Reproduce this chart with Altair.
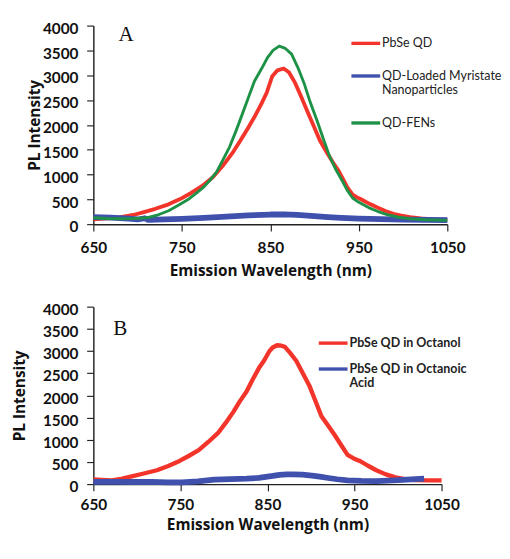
import altair as alt
import pandas as pd

# ---------- Panel A data ----------
a_red_wl = [650, 665, 681, 695, 706, 720, 735, 748, 760, 773, 785, 796, 807, 816, 825, 833, 840, 846, 852, 858, 865, 871, 878, 885, 892, 899, 906, 914, 921, 927, 932, 937, 943, 948, 953, 962, 971, 980, 989, 998, 1008, 1020, 1035, 1050]
a_red_int = [100, 118, 141, 185, 238, 310, 400, 505, 624, 770, 947, 1170, 1430, 1680, 1945, 2190, 2428, 2653, 2975, 3100, 3136, 3060, 2846, 2560, 2266, 1980, 1687, 1440, 1236, 1080, 914, 740, 593, 540, 496, 410, 335, 265, 207, 170, 141, 115, 95, 91]

a_blue_wl = [650, 670, 690, 700, 708, 712, 730, 750, 775, 800, 825, 850, 865, 880, 900, 915, 930, 950, 975, 1000, 1025, 1050]
a_blue_int = [140, 130, 110, 95, 120, 85, 95, 105, 125, 150, 175, 195, 198, 185, 160, 140, 125, 110, 100, 90, 85, 80]

a_green_wl = [650, 665, 680, 695, 710, 722, 735, 746, 757, 766, 775, 782, 789, 796, 804, 811, 818, 825, 832, 840, 847, 853, 860, 867, 874, 881, 888, 895, 903, 910, 917, 924, 932, 937, 943, 950, 961, 971, 982, 995, 1008, 1025, 1050]
a_green_int = [129, 115, 110, 112, 129, 180, 270, 380, 496, 620, 753, 890, 1043, 1280, 1559, 1870, 2202, 2540, 2879, 3130, 3362, 3500, 3588, 3540, 3425, 3160, 2846, 2460, 2073, 1710, 1366, 1100, 850, 680, 528, 440, 335, 260, 193, 140, 110, 90, 77]

a_names = ["PbSe QD", "QD-Loaded Myristate Nanoparticles", "QD-FENs"]
a_colors = ["#f2342a", "#3f51ad", "#1d9146"]
a_widths = [4, 6, 3]

# ---------- Panel B data ----------
b_red_wl = [650, 660, 671, 682, 694, 708, 723, 736, 749, 760, 771, 782, 793, 802, 811, 818, 826, 833, 841, 846, 852, 856, 861, 866, 870, 876, 883, 890, 898, 905, 912, 920, 927, 934, 942, 949, 956, 965, 975, 986, 997, 1008, 1019, 1035, 1050]
b_red_int = [104, 95, 83, 120, 173, 240, 313, 410, 522, 640, 764, 950, 1148, 1380, 1634, 1860, 2087, 2360, 2642, 2782, 2991, 3080, 3130, 3120, 3095, 2960, 2782, 2520, 2225, 1880, 1530, 1310, 1112, 900, 660, 580, 522, 420, 313, 220, 152, 115, 90, 85, 83]

b_blue_wl = [650, 675, 700, 717, 735, 752, 770, 789, 808, 826, 840, 848, 856, 864, 872, 879, 890, 901, 910, 920, 930, 942, 958, 975, 988, 1000, 1015, 1030]
b_blue_int = [50, 50, 48, 50, 42, 40, 60, 104, 115, 125, 140, 165, 185, 209, 218, 222, 212, 194, 170, 138, 110, 83, 72, 70, 78, 90, 105, 125]

b_names = ["PbSe QD in Octanol", "PbSe QD in Octanoic Acid"]
b_colors = ["#f2342a", "#3f51ad"]
b_widths = [4.5, 6]

x_ticks = [650, 750, 850, 950, 1050]
y_ticks = [0, 500, 1000, 1500, 2000, 2500, 3000, 3500, 4000]

FONT = "Lato"
TITLE_FONT = "Open Sans"

LABEL_EXPR = ("datum.label == 'QD-Loaded Myristate Nanoparticles' ? ['QD-Loaded Myristate', 'Nanoparticles'] : "
              "datum.label == 'PbSe QD in Octanoic Acid' ? ['PbSe QD in Octanoic', 'Acid'] : datum.label")


def panel(series, names, colors, widths, letter, w, h, legend_x, legend_y, row_pad,
          label_weight, label_size, y_title_pad, x_label_pad, x_title_pad, letter_x, letter_y):
    color_scale = alt.Scale(domain=names, range=colors)
    legend = alt.Legend(
        title=None, orient="none", legendX=legend_x, legendY=legend_y,
        symbolType="stroke", symbolSize=900, symbolStrokeWidth=3.5,
        labelFont=FONT, labelFontSize=label_size, labelFontWeight=label_weight,
        labelColor="#222", labelOffset=0, rowPadding=row_pad, labelLimit=300,
        labelExpr=LABEL_EXPR,
    )
    layers = []
    for name, (wl, inten), sw in zip(names, series, widths):
        df = pd.DataFrame({"series": name, "wl": wl, "inten": inten})
        layers.append(alt.Chart(df).mark_line(strokeWidth=sw, strokeJoin="round").encode(
            x=alt.X("wl:Q", scale=alt.Scale(domain=[650, 1050], nice=False),
                    axis=alt.Axis(values=x_ticks, format="d", title="Emission Wavelength (nm)",
                                  titlePadding=x_title_pad, labelPadding=x_label_pad)),
            y=alt.Y("inten:Q", scale=alt.Scale(domain=[0, 4000], nice=False),
                    axis=alt.Axis(values=y_ticks, format="d", title="PL Intensity",
                                  titlePadding=y_title_pad, labelPadding=9, labelOffset=3)),
            color=alt.Color("series:N", scale=color_scale, legend=legend),
        ))
    txt = alt.Chart(pd.DataFrame({"t": [letter]})).mark_text(
        font="Liberation Serif", fontSize=22, align="center", baseline="alphabetic", color="#111"
    ).encode(text="t:N", x=alt.value(letter_x), y=alt.value(letter_y))
    layers.append(txt)
    return alt.layer(*layers).properties(width=w, height=h)


top = panel([(a_red_wl, a_red_int), (a_blue_wl, a_blue_int), (a_green_wl, a_green_int)],
            a_names, a_colors, a_widths, "A", 369, 207, 267, 1.5, 10, "normal", 13, 0, 10, 8, 34, 16)
bottom = panel([(b_red_wl, b_red_int), (b_blue_wl, b_blue_int)],
               b_names, b_colors, b_widths, "B", 363, 185, 233, 21, 3, "bold", 13, 16, 6, 5, 28, 30)

chart = alt.vconcat(top, bottom, spacing=24).resolve_scale(color="independent").properties(
    padding={"left": 3, "top": 2, "right": 0, "bottom": 0}
).configure(background="white").configure_view(stroke=None).configure_axis(
    labelFont=FONT, labelFontSize=16, labelFontWeight="bold", labelColor="#111",
    titleFont=TITLE_FONT, titleFontSize=16, titleFontWeight="bold", titleColor="#111",
    domainColor="#222", domainWidth=1.5, tickColor="#222", tickWidth=1.2, tickSize=7, grid=False,
    labelFlush=False,
)

chart.save("out.html", embed_options={"renderer": "svg", "actions": False})
